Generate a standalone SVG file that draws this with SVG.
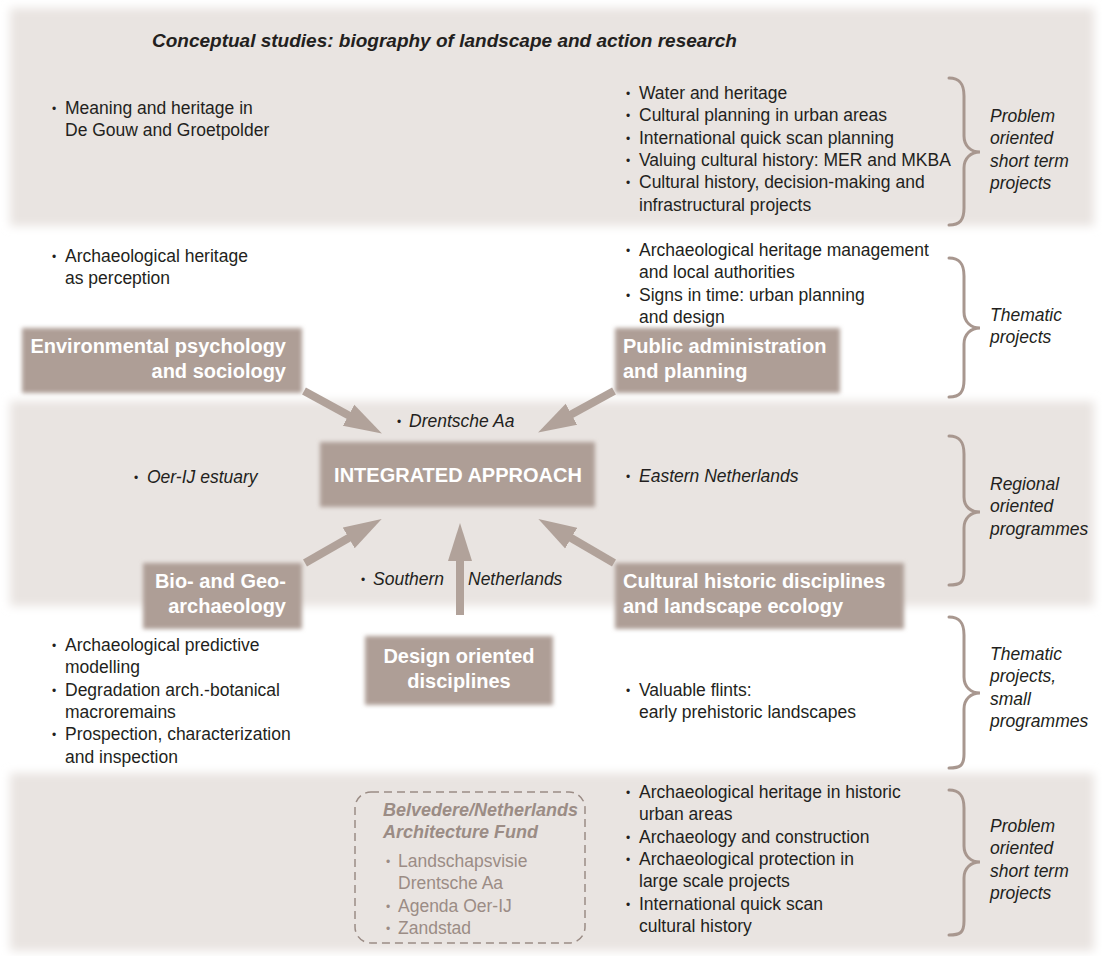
<svg xmlns="http://www.w3.org/2000/svg" width="1102" height="956" viewBox="0 0 1102 956">
  <defs>
    <filter id="soft" x="-5%" y="-10%" width="110%" height="120%">
      <feGaussianBlur stdDeviation="5"/>
    </filter>
    <filter id="edge" x="-10%" y="-20%" width="120%" height="140%">
      <feGaussianBlur stdDeviation="2.2"/>
    </filter>
    <marker id="head" markerUnits="userSpaceOnUse" markerWidth="38" markerHeight="26" refX="16" refY="13" orient="auto">
      <path d="M0,1 L38,13 L0,25 Z" fill="#b1a29a"/>
    </marker>
    <style>
      text { font-family: "Liberation Sans", Arial, sans-serif; fill: #231f20; }
      .t { font-size: 17.5px; }
      .it { font-size: 17.5px; font-style: italic; }
      .bl { font-size: 12px; }
      .title { font-size: 19px; font-weight: bold; font-style: italic; }
      .node { font-size: 20px; font-weight: bold; fill: #ffffff; }
      .band { fill: #e9e4e1; filter: url(#soft); }
      .box { fill: #ae9e96; filter: url(#edge); }
      .brace { fill: none; stroke: #a8978f; stroke-width: 3; stroke-linecap: round; }
      .arrow { fill: none; stroke: #b1a29a; stroke-width: 8; marker-end: url(#head); }
      .fund { fill: #9b8c85; }
      .fundbox { fill: none; stroke: #9b8c85; stroke-width: 1.5; stroke-dasharray: 8 5; }
    </style>
  </defs>

  <!-- background bands -->
  <g id="bands">
    <rect class="band" x="10" y="8" width="1084" height="218"/>
    <rect class="band" x="10" y="401" width="1084" height="205"/>
    <rect class="band" x="10" y="773" width="1084" height="178"/>
  </g>

  <!-- title -->
  <text class="title" x="152" y="47">Conceptual studies: biography of landscape and action research</text>

  <!-- project lists -->
  <g id="lists">
    <text class="t"><tspan class="bl" x="52" y="113">•</tspan><tspan x="65" y="114">Meaning and heritage in</tspan><tspan x="65" y="136.3">De Gouw and Groetpolder</tspan></text>

    <text class="t">
      <tspan class="bl" x="626" y="98">•</tspan><tspan x="639" y="99">Water and heritage</tspan>
      <tspan class="bl" x="626" y="120.3">•</tspan><tspan x="639" y="121.3">Cultural planning in urban areas</tspan>
      <tspan class="bl" x="626" y="142.6">•</tspan><tspan x="639" y="143.6">International quick scan planning</tspan>
      <tspan class="bl" x="626" y="164.9">•</tspan><tspan x="639" y="165.9">Valuing cultural history: MER and MKBA</tspan>
      <tspan class="bl" x="626" y="187.2">•</tspan><tspan x="639" y="188.2">Cultural history, decision-making and</tspan>
      <tspan x="639" y="210.5">infrastructural projects</tspan>
    </text>

    <text class="t"><tspan class="bl" x="52" y="261">•</tspan><tspan x="65" y="262">Archaeological heritage</tspan><tspan x="65" y="284.3">as perception</tspan></text>

    <text class="t">
      <tspan class="bl" x="626" y="255">•</tspan><tspan x="639" y="256">Archaeological heritage management</tspan>
      <tspan x="639" y="278.3">and local authorities</tspan>
      <tspan class="bl" x="626" y="299.6">•</tspan><tspan x="639" y="300.6">Signs in time: urban planning</tspan>
      <tspan x="639" y="322.9">and design</tspan>
    </text>

    <text class="it"><tspan class="bl" x="397" y="426" font-style="normal">•</tspan><tspan x="409" y="427">Drentsche Aa</tspan></text>
    <text class="it"><tspan class="bl" x="134" y="482" font-style="normal">•</tspan><tspan x="147" y="483">Oer-IJ estuary</tspan></text>
    <text class="it"><tspan class="bl" x="626" y="481" font-style="normal">•</tspan><tspan x="639" y="482">Eastern Netherlands</tspan></text>
    <text class="it"><tspan class="bl" x="361" y="584" font-style="normal">•</tspan><tspan x="373" y="585">Southern</tspan><tspan x="468" y="585">Netherlands</tspan></text>

    <text class="t">
      <tspan class="bl" x="52" y="650">•</tspan><tspan x="65" y="651">Archaeological predictive</tspan>
      <tspan x="65" y="673.3">modelling</tspan>
      <tspan class="bl" x="52" y="694.6">•</tspan><tspan x="65" y="695.6">Degradation arch.-botanical</tspan>
      <tspan x="65" y="717.9">macroremains</tspan>
      <tspan class="bl" x="52" y="739.2">•</tspan><tspan x="65" y="740.2">Prospection, characterization</tspan>
      <tspan x="65" y="762.5">and inspection</tspan>
    </text>

    <text class="t"><tspan class="bl" x="626" y="695">•</tspan><tspan x="639" y="696">Valuable flints:</tspan><tspan x="639" y="718.3">early prehistoric landscapes</tspan></text>

    <text class="t">
      <tspan class="bl" x="626" y="797">•</tspan><tspan x="639" y="798">Archaeological heritage in historic</tspan>
      <tspan x="639" y="820.3">urban areas</tspan>
      <tspan class="bl" x="626" y="841.6">•</tspan><tspan x="639" y="842.6">Archaeology and construction</tspan>
      <tspan class="bl" x="626" y="863.9">•</tspan><tspan x="639" y="864.9">Archaeological protection in</tspan>
      <tspan x="639" y="887.2">large scale projects</tspan>
      <tspan class="bl" x="626" y="908.5">•</tspan><tspan x="639" y="909.5">International quick scan</tspan>
      <tspan x="639" y="931.8">cultural history</tspan>
    </text>
  </g>

  <!-- Belvedere fund box -->
  <g id="fund">
    <rect class="fundbox" x="355" y="792" width="230" height="151" rx="16"/>
    <text class="fund" font-size="18" font-weight="bold" font-style="italic"><tspan x="383" y="816">Belvedere/Netherlands</tspan><tspan x="383" y="838">Architecture Fund</tspan></text>
    <text class="t fund">
      <tspan class="bl fund" x="386" y="866">•</tspan><tspan x="398" y="867">Landschapsvisie</tspan>
      <tspan x="398" y="889.3">Drentsche Aa</tspan>
      <tspan class="bl fund" x="386" y="910.6">•</tspan><tspan x="398" y="911.6">Agenda Oer-IJ</tspan>
      <tspan class="bl fund" x="386" y="932.9">•</tspan><tspan x="398" y="933.9">Zandstad</tspan>
    </text>
  </g>

  <!-- braces and their labels -->
  <g id="braces">
    <path class="brace" d="M949,78 C960,78 964,84 964,96 L964,136 C964,146 971,152 980,152 C971,152 964,158 964,168 L964,208 C964,220 960,225 949,225"/>
    <text class="it"><tspan x="990" y="122">Problem</tspan><tspan x="990" y="144.3">oriented</tspan><tspan x="990" y="166.6">short term</tspan><tspan x="990" y="188.9">projects</tspan></text>

    <path class="brace" d="M949,258 C960,258 964,264 964,276 L964,312 C964,322 971,328 980,328 C971,328 964,334 964,344 L964,380 C964,392 960,397 949,397"/>
    <text class="it"><tspan x="990" y="321">Thematic</tspan><tspan x="990" y="343.3">projects</tspan></text>

    <path class="brace" d="M949,436 C960,436 964,442 964,454 L964,497 C964,507 971,512 980,512 C971,512 964,518 964,528 L964,571 C964,583 960,585 949,585"/>
    <text class="it"><tspan x="990" y="490">Regional</tspan><tspan x="990" y="512.3">oriented</tspan><tspan x="990" y="534.6">programmes</tspan></text>

    <path class="brace" d="M949,617 C960,617 964,623 964,635 L964,677 C964,687 971,693 980,693 C971,693 964,699 964,709 L964,754 C964,766 960,768 949,768"/>
    <text class="it"><tspan x="990" y="660">Thematic</tspan><tspan x="990" y="682.3">projects,</tspan><tspan x="990" y="704.6">small</tspan><tspan x="990" y="726.9">programmes</tspan></text>

    <path class="brace" d="M949,790 C960,790 964,796 964,808 L964,846 C964,856 971,862 980,862 C971,862 964,868 964,878 L964,921 C964,933 960,935 949,935"/>
    <text class="it"><tspan x="990" y="832">Problem</tspan><tspan x="990" y="854.3">oriented</tspan><tspan x="990" y="876.6">short term</tspan><tspan x="990" y="898.9">projects</tspan></text>
  </g>

  <!-- connectors -->
  <g id="connectors">
    <line class="arrow" x1="304" y1="391" x2="362.6" y2="423"/>
    <line class="arrow" x1="614" y1="391" x2="557.4" y2="422"/>
    <line class="arrow" x1="305" y1="563" x2="362.6" y2="530"/>
    <line class="arrow" x1="614" y1="563" x2="557.4" y2="530"/>
    <line class="arrow" x1="460" y1="615" x2="460" y2="545"/>
  </g>

  <!-- discipline nodes -->
  <g id="node-integrated">
    <rect class="box" x="320" y="442" width="275" height="65"/>
    <text class="node" x="458" y="482" font-size="19" text-anchor="middle">INTEGRATED APPROACH</text>
  </g>
  <g id="node-environmental">
    <rect class="box" x="22" y="328" width="280" height="65"/>
    <text class="node" text-anchor="end"><tspan x="286" y="353">Environmental psychology</tspan><tspan x="286" y="378">and sociology</tspan></text>
  </g>
  <g id="node-public">
    <rect class="box" x="615" y="328" width="225" height="65"/>
    <text class="node"><tspan x="623" y="353">Public administration</tspan><tspan x="623" y="378">and planning</tspan></text>
  </g>
  <g id="node-biogeo">
    <rect class="box" x="143" y="563" width="159" height="66"/>
    <text class="node" text-anchor="end"><tspan x="286" y="588">Bio- and Geo-</tspan><tspan x="286" y="613">archaeology</tspan></text>
  </g>
  <g id="node-cultural">
    <rect class="box" x="615" y="563" width="289" height="66"/>
    <text class="node"><tspan x="623" y="588">Cultural historic disciplines</tspan><tspan x="623" y="613">and landscape ecology</tspan></text>
  </g>
  <g id="node-design">
    <rect class="box" x="365" y="636" width="188" height="69"/>
    <text class="node" text-anchor="middle"><tspan x="459" y="663">Design oriented</tspan><tspan x="459" y="688">disciplines</tspan></text>
  </g>
</svg>
